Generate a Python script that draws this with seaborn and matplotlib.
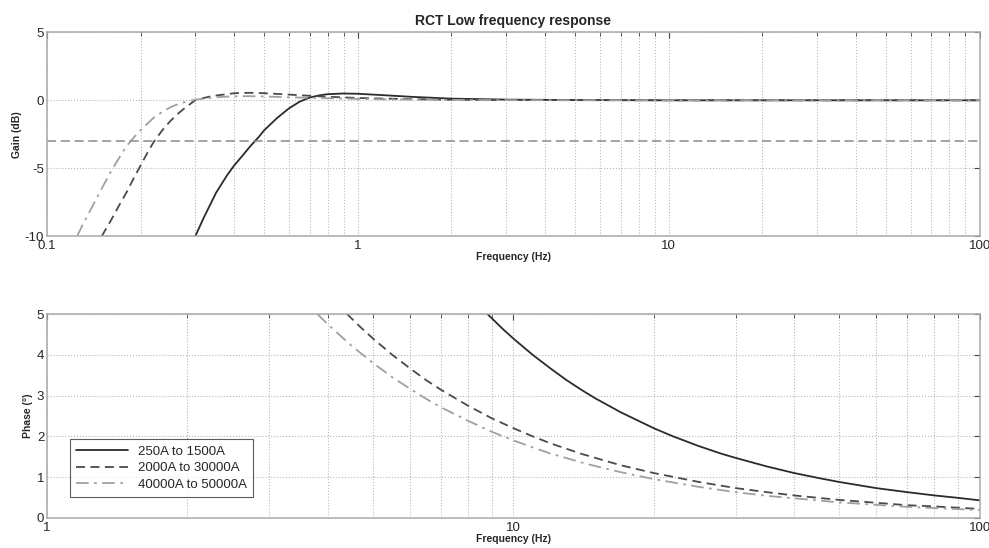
import matplotlib
matplotlib.use("Agg")
import matplotlib.pyplot as plt
import seaborn as sns
import pandas as pd
from matplotlib.ticker import FixedLocator, LogLocator, NullFormatter, FixedFormatter

sns.set_style("white")
plt.rcParams['font.family'] = ['Liberation Sans', 'DejaVu Sans']

series_names = ["250A to 1500A", "2000A to 30000A", "40000A to 50000A"]

# Gain (dB) vs frequency (Hz)
gain_f1 = [0.30, 0.32, 0.35, 0.38, 0.40, 0.43, 0.45, 0.48, 0.50, 0.55, 0.60, 0.65, 0.70, 0.75, 0.80, 0.90, 1.0, 1.2, 1.5, 2.0, 3.0, 5.0, 7.0, 10, 100]
gain_v1 = [-10, -8.6, -6.8, -5.5, -4.8, -3.95, -3.4, -2.7, -2.2, -1.3, -0.6, -0.1, 0.2, 0.36, 0.45, 0.5, 0.48, 0.38, 0.25, 0.12, 0.05, 0.02, 0.01, 0.0, 0.0]
gain_f2 = [0.15, 0.16, 0.17, 0.18, 0.19, 0.20, 0.21, 0.22, 0.235, 0.25, 0.265, 0.28, 0.30, 0.33, 0.35, 0.40, 0.45, 0.50, 0.60, 0.70, 0.80, 1.0, 1.5, 2.0, 3.0, 5.0, 10, 100]
gain_v2 = [-10, -8.9, -7.8, -6.8, -5.75, -4.8, -3.9, -3.1, -2.2, -1.5, -0.95, -0.5, 0.0, 0.25, 0.35, 0.52, 0.55, 0.52, 0.42, 0.33, 0.26, 0.17, 0.08, 0.04, 0.02, 0.01, 0.0, 0.0]
gain_f3 = [0.125, 0.13, 0.135, 0.14, 0.15, 0.16, 0.17, 0.18, 0.19, 0.20, 0.22, 0.235, 0.25, 0.27, 0.30, 0.35, 0.40, 0.45, 0.50, 0.60, 0.80, 1.0, 1.5, 2.0, 3.0, 10, 100]
gain_v3 = [-10, -9.2, -8.5, -7.8, -6.5, -5.3, -4.3, -3.4, -2.75, -2.2, -1.3, -0.85, -0.5, -0.2, 0.05, 0.22, 0.3, 0.3, 0.28, 0.22, 0.15, 0.1, 0.05, 0.03, 0.01, 0.0, 0.0]
ref_level_db = -3

# Phase (deg) vs frequency (Hz)
ph_f1 = [8.8, 9.5, 10, 11, 12, 13, 14, 15, 17, 20, 22, 25, 28, 30, 35, 40, 45, 50, 60, 70, 80, 90, 100]
ph_v1 = [5.0, 4.63, 4.4, 4.0, 3.67, 3.38, 3.14, 2.93, 2.59, 2.2, 2.0, 1.76, 1.57, 1.47, 1.26, 1.1, 0.98, 0.88, 0.73, 0.63, 0.55, 0.49, 0.43]
ph_f2 = [4.4, 4.7, 5, 5.5, 6, 6.5, 7, 8, 9, 10, 11, 12, 14, 15, 17, 20, 25, 30, 35, 40, 50, 60, 70, 80, 100]
ph_v2 = [5.0, 4.68, 4.4, 4.0, 3.67, 3.38, 3.14, 2.75, 2.44, 2.2, 2.0, 1.83, 1.57, 1.47, 1.29, 1.1, 0.88, 0.73, 0.63, 0.55, 0.44, 0.37, 0.31, 0.28, 0.22]
ph_f3 = [3.8, 4, 4.5, 5, 5.5, 6, 6.5, 7, 8, 9, 10, 11, 12, 14, 15, 17, 20, 25, 30, 35, 40, 50, 60, 70, 80, 100]
ph_v3 = [5.0, 4.75, 4.22, 3.8, 3.45, 3.17, 2.92, 2.71, 2.38, 2.11, 1.9, 1.73, 1.58, 1.36, 1.27, 1.12, 0.95, 0.76, 0.63, 0.54, 0.48, 0.38, 0.32, 0.27, 0.24, 0.19]

colors = ["#2b2b2b", "#4a4a4a", "#a0a0a0"]
styles = ["-", (0, (5, 3)), (0, (7, 3, 1.5, 3))]

fig = plt.figure(figsize=(9.89, 5.48), dpi=100)
ax1 = fig.add_axes([0.0475, 0.569, 0.943, 0.372])
ax2 = fig.add_axes([0.0475, 0.055, 0.943, 0.372])

gain_data = [(gain_f1, gain_v1), (gain_f2, gain_v2), (gain_f3, gain_v3)]
phase_data = [(ph_f1, ph_v1), (ph_f2, ph_v2), (ph_f3, ph_v3)]

for i, (f, v) in enumerate(gain_data):
    df = pd.DataFrame({"f": f, "v": v})
    sns.lineplot(data=df, x="f", y="v", ax=ax1, color=colors[i], linestyle=styles[i], lw=1.3, sort=False)
ax1.axhline(ref_level_db, color="#8a8a8a", lw=1.1, linestyle=(0, (6, 3)))

for i, (f, v) in enumerate(phase_data):
    df = pd.DataFrame({"f": f, "v": v})
    sns.lineplot(data=df, x="f", y="v", ax=ax2, color=colors[i], linestyle=styles[i], lw=1.3,
                 label=series_names[i], sort=False)

def style_axis(ax, xlim, xticks, xlabels, ylim, yticks, ylabel, ylabelpad):
    ax.set_xscale("log")
    ax.set_xlim(*xlim)
    ax.set_ylim(*ylim)
    ax.xaxis.set_major_locator(FixedLocator(xticks))
    ax.xaxis.set_major_formatter(FixedFormatter(xlabels))
    ax.xaxis.set_minor_locator(LogLocator(base=10, subs=range(2, 10), numticks=20))
    ax.xaxis.set_minor_formatter(NullFormatter())
    ax.set_yticks(yticks)
    ax.set_yticklabels([str(t) for t in yticks])
    ax.grid(True, which="major", axis="both", color="#b8b8b8", linestyle=":", lw=0.8)
    ax.grid(True, which="minor", axis="x", color="#b8b8b8", linestyle=":", lw=0.8)
    ax.tick_params(which="both", direction="in", top=True, right=True, labelsize=9.5, color="#444444",
                   length=4, pad=2)
    ax.tick_params(axis="x", which="major", pad=3)
    ax.tick_params(which="minor", length=3)
    for s in ax.spines.values():
        s.set_color("#aaaaaa")
        s.set_linewidth(1.1)
    ax.set_xlabel("Frequency (Hz)", fontsize=7.5, fontweight="bold", labelpad=0)
    ax.set_ylabel(ylabel, fontsize=7.5, fontweight="bold", labelpad=ylabelpad)

style_axis(ax1, (0.1, 100), [0.1, 1, 10, 100], ["0.1", "1", "10", "100"], (-10, 5), [-10, -5, 0, 5], "Gain (dB)", 2)
style_axis(ax2, (1, 100), [1, 10, 100], ["1", "10", "100"], (0, 5), [0, 1, 2, 3, 4, 5], "Phase (°)", 3)
ax1.set_title("RCT Low frequency response", fontsize=10, fontweight="bold", pad=5)

leg = ax2.legend(loc="lower left", bbox_to_anchor=(0.0244, 0.104), fontsize=9.5, frameon=True, fancybox=False,
                 edgecolor="#333333", handlelength=4.0, borderpad=0.45, labelspacing=0.33, handletextpad=0.7,
                 borderaxespad=0.0)
leg.get_frame().set_linewidth(0.8)

fig.savefig("out.png", dpi=100, facecolor="white")
